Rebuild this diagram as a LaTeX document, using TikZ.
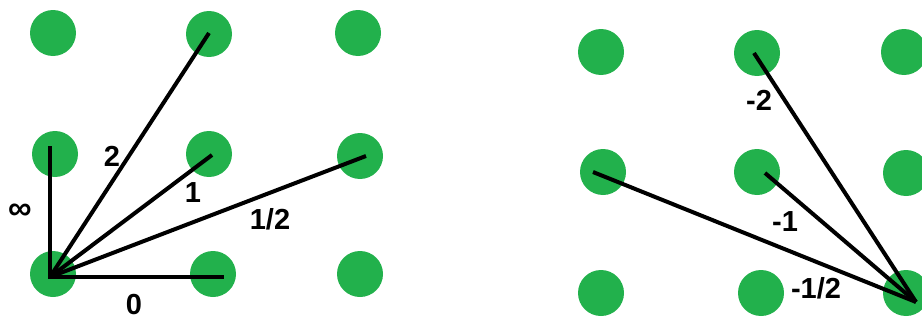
\documentclass[tikz,border=0pt]{standalone}
\usepackage{fontspec}
\setmainfont{Liberation Sans}
\definecolor{dotgreen}{RGB}{34,177,76}
\begin{document}
\begin{tikzpicture}[x=1pt,y=-1pt,
  dot/.style={circle,fill=dotgreen,minimum size=46pt,inner sep=0pt},
  seg/.style={line width=4pt,black},
  lbl/.style={font=\bfseries\fontsize{29}{29}\selectfont,inner sep=0pt}]
\useasboundingbox (0,0) rectangle (922,324);
\clip (0,0) rectangle (922,324);
% left grid
\node[dot] (a11) at (53,33) {};
\node[dot] (a12) at (209,34) {};
\node[dot] (a13) at (358,33) {};
\node[dot] (a21) at (55,154) {};
\node[dot] (a22) at (209,154) {};
\node[dot] (a23) at (360,156) {};
\node[dot] (a31) at (53,274) {};
\node[dot] (a32) at (213,274) {};
\node[dot] (a33) at (360,274) {};
% right grid
\node[dot] (b11) at (601,52) {};
\node[dot] (b12) at (757,53) {};
\node[dot] (b13) at (904,52) {};
\node[dot] (b21) at (603,172) {};
\node[dot] (b22) at (757,172) {};
\node[dot] (b23) at (906,173) {};
\node[dot] (b31) at (601,293) {};
\node[dot] (b32) at (761,293) {};
\node[dot] (b33) at (906,293) {};
% line end points
\coordinate (o) at (50,277);
\coordinate (ev) at (50,146);
\coordinate (eh) at (224,277);
\coordinate (e2) at (209,33);
\coordinate (e1) at (212,155);
\coordinate (eh2) at (366,156);
\coordinate (p) at (916,302);
\coordinate (fm2) at (754,53);
\coordinate (fm1) at (765,173);
\coordinate (fmh) at (593,172);
% left lines
\draw[seg] (ev) -- (o) -- (eh);
\draw[seg] (o) -- (e2);
\draw[seg] (o) -- (e1);
\draw[seg] (o) -- (eh2);
% right lines
\draw[seg] (p) -- (fm2);
\draw[seg] (p) -- (fm1);
\draw[seg] (p) -- (fmh);
% labels
\node[lbl] (l2) at (112,156) {2};
\node[lbl] (l1) at (193,193) {1};
\node[lbl] (lh) at (270,219) {1/2};
\node[lbl] (l0) at (134,305) {0};
\node[lbl,font=\bfseries\fontsize{33}{33}\selectfont] (linf) at (20,212) {∞};
\node[lbl] (lm2) at (759,100) {-2};
\node[lbl] (lm1) at (785,222) {-1};
\node[lbl] (lmh) at (816,288) {-1/2};
\end{tikzpicture}
\end{document}
